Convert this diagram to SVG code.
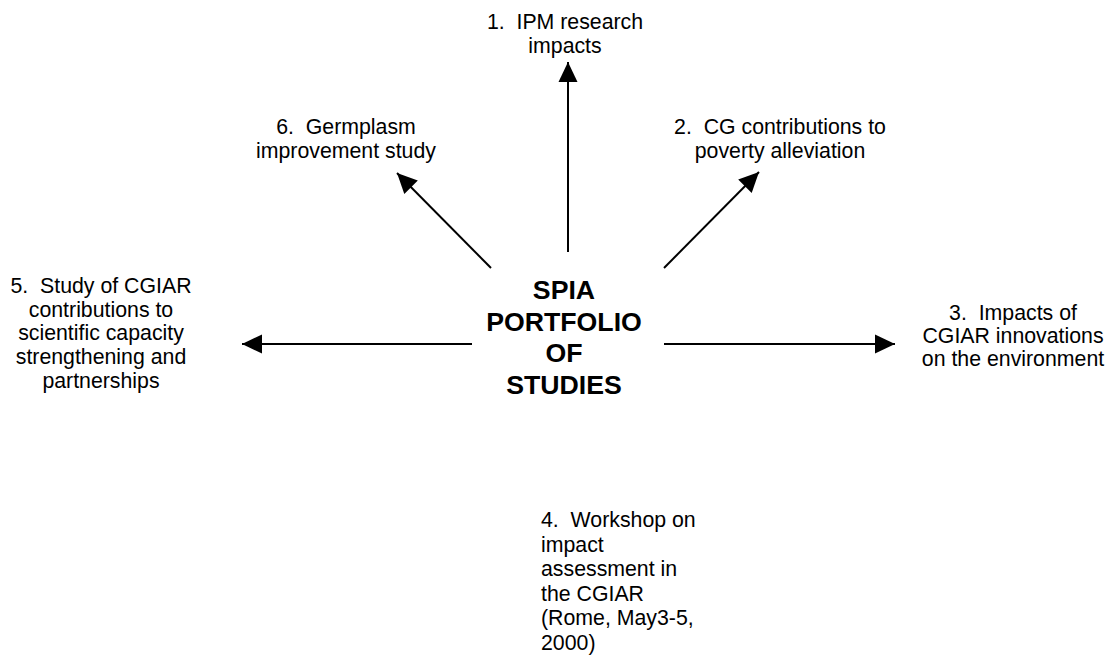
<svg xmlns="http://www.w3.org/2000/svg" width="1114" height="656" viewBox="0 0 1114 656">
<style>
.t{font-family:"Liberation Sans",Arial,sans-serif;font-size:21.3px;fill:#000;text-anchor:middle;white-space:pre}
.l{text-anchor:start}
.b{font-family:"Liberation Sans",Arial,sans-serif;font-size:26.7px;font-weight:bold;fill:#000;text-anchor:middle}
.c{stroke:#000;stroke-width:2;fill:none;marker-end:url(#ah)}
</style>
<defs>
<marker id="ah" markerUnits="userSpaceOnUse" markerWidth="22" markerHeight="22" viewBox="0 0 22 22" refX="21" refY="11" orient="auto">
<path d="M1,1.5 L21,11 L1,20.5 Z" fill="#000"/>
</marker>
</defs>
<rect width="1114" height="656" fill="#fff"/>
<g id="connectors">
<line class="c" x1="568" y1="252" x2="568" y2="62"/>
<line class="c" x1="491" y1="268" x2="397" y2="173"/>
<line class="c" x1="664" y1="268" x2="759" y2="172"/>
<line class="c" x1="472" y1="344" x2="242" y2="344"/>
<line class="c" x1="664" y1="344" x2="895" y2="344"/>
</g>
<g id="center">
<text class="b" x="564" y="299">SPIA</text>
<text class="b" x="564" y="331">PORTFOLIO</text>
<text class="b" x="564" y="362">OF</text>
<text class="b" x="564" y="394">STUDIES</text>
</g>
<g id="node1">
<text class="t" x="565" y="29">1.  IPM research</text>
<text class="t" x="565" y="53">impacts</text>
</g>
<g id="node2">
<text class="t" x="780" y="134">2.  CG contributions to</text>
<text class="t" x="780" y="158">poverty alleviation</text>
</g>
<g id="node3">
<text class="t" x="1013" y="320">3.  Impacts of</text>
<text class="t" x="1013" y="343">CGIAR innovations</text>
<text class="t" x="1013" y="366">on the environment</text>
</g>
<g id="node4">
<text class="t l" x="541" y="527">4.  Workshop on</text>
<text class="t l" x="541" y="551.6">impact</text>
<text class="t l" x="541" y="576.2">assessment in</text>
<text class="t l" x="541" y="600.8">the CGIAR</text>
<text class="t l" x="541" y="625.4">(Rome, May3-5,</text>
<text class="t l" x="541" y="650">2000)</text>
</g>
<g id="node5">
<text class="t" x="101" y="293">5.  Study of CGIAR</text>
<text class="t" x="101" y="317">contributions to</text>
<text class="t" x="101" y="340">scientific capacity</text>
<text class="t" x="101" y="364">strengthening and</text>
<text class="t" x="101" y="388">partnerships</text>
</g>
<g id="node6">
<text class="t" x="346" y="134">6.  Germplasm</text>
<text class="t" x="346" y="158">improvement study</text>
</g>
</svg>
